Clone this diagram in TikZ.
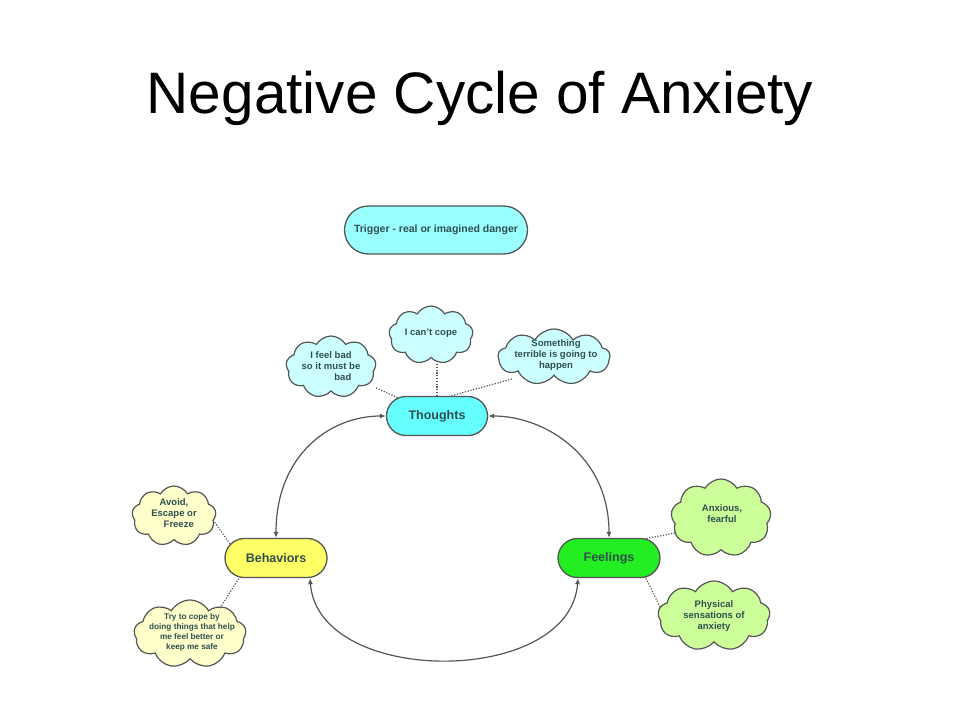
\documentclass[tikz,border=0pt]{standalone}
\usepackage{fontspec}
\setmainfont{Liberation Sans}
\usetikzlibrary{shapes.misc,shapes.symbols,arrows.meta}
\definecolor{edge}{HTML}{555555}
\definecolor{txt}{HTML}{2F4F4F}
\definecolor{cyanA}{HTML}{66FFFF}
\definecolor{cyanB}{HTML}{99FFFF}
\definecolor{cyanC}{HTML}{CCFFFF}
\definecolor{yelA}{HTML}{FFFF66}
\definecolor{yelB}{HTML}{FFFFCC}
\definecolor{grnA}{HTML}{22EE22}
\definecolor{grnB}{HTML}{CCFF99}
\tikzset{
  pill/.style={rounded rectangle, draw=edge, line width=1.3pt, inner sep=0pt,
    font=\fontsize{12.5}{14}\selectfont\bfseries, text=txt},
  cloudbox/.style={cloud, cloud puffs=9, cloud puff arc=120, draw=edge, line width=1.2pt,
    inner sep=0pt},
  cloudtext/.style={align=center, inner sep=0pt, font=\fontsize{9.5}{11}\selectfont\bfseries, text=txt},
  link/.style={draw=edge, line width=1.2pt, dash pattern=on 1.2pt off 1.6pt},
  cyc/.style={draw=edge, line width=1.2pt, {Latex[length=6pt,width=5pt]}-{Latex[length=6pt,width=5pt]}}
}
\begin{document}
\begin{tikzpicture}[x=1pt,y=-1pt]
\useasboundingbox[fill=white] (0,0) rectangle (960,720);
\node[anchor=base, inner sep=0pt] (title) at (480,113) {\fontsize{58.5}{62}\selectfont Negative Cycle of Anxiety};

\node[pill, fill=cyanB, minimum width=183pt, minimum height=48pt, font=\fontsize{10.5}{12}\selectfont\bfseries] (trigger) at (436,230) {Trigger - real or imagined danger};

\node[pill, fill=cyanA, minimum width=101pt, minimum height=39pt] (thoughts) at (437,416) {Thoughts};
\node[pill, fill=yelA, minimum width=102pt, minimum height=39pt] (behaviors) at (276,558) {Behaviors};
\node[pill, fill=grnA, minimum width=102pt, minimum height=39pt] (feelings) at (609,558) {Feelings};

% clouds
\node[cloudbox, fill=cyanC, minimum width=90pt, minimum height=62pt, aspect=1.45] (c1) at (331,367) {};
\node[cloudtext] (c1t) at (331,366) {I feel bad\\so it must be\\\hspace{2.5em}bad};
\node[cloudbox, fill=cyanC, minimum width=84pt, minimum height=58pt, aspect=1.45] (c2) at (431,335) {};
\node[cloudtext] (c2t) at (431,333) {I can't cope};
\node[cloudbox, fill=cyanC, minimum width=112pt, minimum height=56pt, aspect=2] (c3) at (554,357) {};
\node[cloudtext] (c3t) at (556,355) {Something\\terrible is going to\\happen};

\node[cloudbox, fill=yelB, minimum width=84pt, minimum height=60pt, aspect=1.4] (b1) at (174,516) {};
\node[cloudtext] (b1t) at (174,513) {Avoid,\\Escape or\\\hspace{1em}Freeze};
\node[cloudbox, fill=yelB, minimum width=112pt, minimum height=68pt, aspect=1.65] (b2) at (190,634) {};
\node[cloudtext, font=\fontsize{8.2}{10}\selectfont\bfseries] (b2t) at (192,632) {Try to cope by\\doing things that help\\me feel better or\\keep me safe};

\node[cloudbox, fill=grnB, minimum width=100pt, minimum height=78pt, aspect=1.28] (f1) at (721,518) {};
\node[cloudtext] (f1t) at (722,514) {Anxious,\\fearful};
\node[cloudbox, fill=grnB, minimum width=112pt, minimum height=70pt, aspect=1.6] (f2) at (714,616) {};
\node[cloudtext] (f2t) at (714,616) {Physical\\sensations of\\anxiety};

% dotted links
\coordinate (c1e) at (376,388);
\coordinate (c2e) at (437,364);
\coordinate (c3e) at (512,379);
\coordinate (b1e) at (213,520);
\coordinate (b2e) at (220,608);
\coordinate (f1e) at (675,533);
\coordinate (f2e) at (660,607);
\draw[link] (c1e) -- (thoughts.155);
\draw[link] (c2e) -- (thoughts.north);
\draw[link] (c3e) -- (thoughts.55);
\draw[link] (b1e) -- (behaviors.163);
\draw[link] (b2e) -- (behaviors.208);
\draw[link] (f1e) -- (feelings.28);
\draw[link] (f2e) -- (feelings.-28);

% cycle arrows
\draw[cyc] (thoughts.west) .. controls (330,416) and (276,455) .. (behaviors.north);
\draw[cyc] (thoughts.east) .. controls (544,416) and (609,455) .. (feelings.north);
\draw[cyc] ([xshift=34pt]behaviors.south) .. controls (318,687) and (570,687) .. ([xshift=-31pt]feelings.south);
\end{tikzpicture}
\end{document}
